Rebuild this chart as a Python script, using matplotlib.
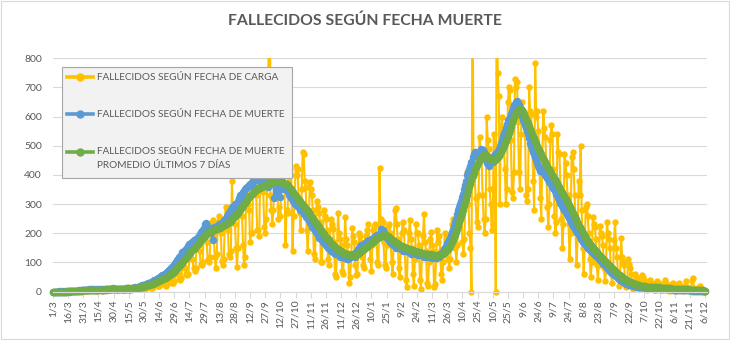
import numpy as np
import matplotlib
matplotlib.use("Agg")
import matplotlib.pyplot as plt
from matplotlib.lines import Line2D
from matplotlib.patches import Rectangle

# ---------------- DATA (daily, from 1/3/2020 to 6/12/2021) ----------------
tick_labels = ["1/3", "16/3", "31/3", "15/4", "30/4", "15/5", "30/5", "14/6", "29/6", "14/7",
               "29/7", "13/8", "28/8", "12/9", "27/9", "12/10", "27/10", "11/11", "26/11",
               "11/12", "26/12", "10/1", "25/1", "9/2", "24/2", "11/3", "26/3", "10/4", "25/4",
               "10/5", "25/5", "9/6", "24/6", "9/7", "24/7", "8/8", "23/8", "7/9", "22/9",
               "7/10", "22/10", "6/11", "21/11", "6/12"]

fallecidos_carga = [
    0,0,0,0,0,0,1, 0,0,0,1,0,0,0, 0,0,1,0,1,0,1, 1,2,1,3,5,2,1, 2,5,4,6,3,6,3,
    4,3,8,9,7,5,5, 4,3,7,8,5,9,3, 5,4,8,7,9,7,6, 5,6,8,10,7,9,6, 4,6,10,7,9,8,5,
    6,5,9,11,14,8,6, 7,8,11,16,12,10,9, 8,9,12,15,18,14,10, 10,12,18,22,25,20,13,
    12,15,24,30,33,28,20, 18,22,35,38,42,36,25, 20,25,45,50,56,48,30, 30,35,60,70,78,65,42,
    40,45,85,95,110,80,60, 55,60,120,130,145,110,80, 70,80,165,170,160,140,95,
    90,100,190,200,210,170,110, 100,120,215,240,245,195,120, 80,130,240,260,230,200,105,
    90,110,250,290,280,210,130, 120,140,380,260,300,230,150, 85,150,300,310,320,260,160,
    90,120,330,350,300,280,170, 200,200,370,390,400,330,210, 210,190,400,420,380,340,220,
    200,250,400,410,3351,330,280, 230,280,420,440,410,360,250, 290,260,430,420,400,370,160,
    280,270,380,420,400,350,140, 260,300,430,400,420,320,270, 210,350,480,470,380,360,210,
    140,230,375,350,330,280,130, 110,215,310,290,270,240,100, 100,200,280,260,250,210,110,
    90,180,250,230,215,170,60, 50,150,270,200,180,160,70, 60,140,255,180,160,130,30,
    50,120,218,190,170,90,55, 60,140,200,190,170,120,90, 80,150,190,210,230,180,110,
    70,160,210,220,230,180,100, 90,425,250,230,240,170,90, 80,160,220,230,200,170,100,
    60,170,280,285,230,180,80, 50,140,200,240,210,150,40, 15,150,200,245,180,150,60,
    20,110,230,200,200,160,40, 10,130,190,265,170,140,30, 20,100,180,205,160,140,15,
    25,110,210,170,190,140,60, 40,100,150,200,180,170,110, 80,110,200,230,250,220,150,
    100,160,280,290,300,290,170, 130,180,350,360,410,300,200, 150,0,1100,420,430,320,240,
    220,330,530,480,450,330,250, 200,250,600,520,490,350,300, 210,230,540,460,0,1200,750,
    670,300,550,600,560,500,420, 300,350,650,700,690,520,340, 320,410,730,700,720,580,410,
    350,540,650,620,600,540,330, 310,350,700,620,610,500,380, 280,784,600,620,550,480,320,
    250,430,620,560,530,440,290, 220,300,520,570,540,420,260, 200,240,540,480,470,360,250,
    150,230,470,440,400,330,230, 110,200,460,480,420,330,200, 90,190,380,330,500,280,150,
    60,150,290,300,260,200,110, 50,100,255,230,220,180,90, 40,90,225,200,190,160,80,
    35,70,240,200,180,150,60, 30,60,175,240,150,120,50, 20,45,185,120,100,90,40,
    15,30,110,95,80,60,25, 10,25,60,50,45,35,20, 8,15,55,50,40,30,15,
    5,12,35,40,30,25,10, 5,10,30,35,28,22,8, 4,8,25,40,30,20,8,
    3,8,20,25,30,18,6, 3,6,22,30,20,15,5, 2,5,20,35,15,12,4,
    2,4,38,45,12,10,3, 2,4,15,20,10,8,2, 0,0]

fallecidos_muerte = [
    0,0,0,0,0,0,1, 0,0,1,0,0,1,0, 1,1,0,2,1,1,2, 2,3,2,3,3,4,3, 4,5,4,6,5,6,6,
    6,7,5,8,6,7,6, 6,7,5,6,7,8,5, 7,6,8,7,6,8,7, 8,7,9,12,8,7,8, 9,8,10,9,8,10,9,
    10,9,11,10,12,9,10, 12,11,13,12,14,12,13, 15,16,18,20,22,21,24, 24,27,26,29,30,29,32,
    34,36,38,41,40,44,45, 46,50,52,56,55,58,60, 63,66,70,74,76,80,84, 88,92,98,100,108,112,118,
    120,125,135,130,140,138,145, 150,155,162,158,165,170,175, 172,180,178,188,192,198,205,
    208,212,218,232,236,225,215, 210,218,205,212,178,220,215, 220,225,222,230,228,235,232,
    240,245,250,248,260,265,270, 275,280,290,270,295,300,285, 305,310,320,330,325,335,340,
    345,350,355,360,358,365,370, 370,375,380,360,385,390,385, 390,380,395,385,390,400,395,
    385,380,390,360,380,395,385, 370,390,320,385,395,330,375, 360,325,370,380,350,365,355,
    350,340,330,345,320,330,310, 315,300,310,295,300,290,280, 285,275,280,265,270,255,260,
    250,245,235,240,220,225,215, 210,205,200,195,185,190,180, 175,170,165,175,160,155,150,
    150,145,140,148,135,138,130, 135,130,128,132,120,125,118, 118,122,115,125,110,112,120,
    118,120,125,128,130,120,135, 140,145,150,155,160,150,158, 160,165,168,172,165,175,170,
    175,180,185,182,190,188,195, 195,200,215,205,210,200,195, 190,185,180,175,170,168,165,
    160,165,158,150,162,155,150, 150,145,148,140,152,145,140, 138,142,135,140,130,138,135,
    132,135,128,130,125,132,128, 125,128,122,118,130,125,122, 120,125,118,128,115,122,120,
    118,115,122,125,120,128,130, 132,138,145,150,155,165,170, 175,185,195,205,215,225,240,
    250,265,280,290,300,310,325, 335,350,365,380,400,410,420, 430,445,460,470,480,480,470,
    475,480,460,490,470,485,480, 465,455,440,450,430,445,460, 450,445,455,470,465,480,475,
    490,500,510,520,535,545,550, 560,575,590,580,600,610,620, 630,640,635,650,655,645,640,
    630,615,600,590,580,570,560, 550,540,525,510,500,490,480, 470,460,450,440,430,425,415,
    425,415,410,405,400,395,390, 385,375,378,370,360,355,350, 345,335,330,320,315,305,300,
    295,288,280,273,265,258,252, 246,240,233,226,220,214,208, 205,199,193,187,181,175,170,
    168,163,158,154,150,146,143, 140,136,132,128,124,121,118, 115,111,107,103,100,96,93,
    90,86,82,79,75,72,68, 65,62,58,55,52,49,46, 44,41,39,36,34,32,30,
    27,26,25,24,23,22,21, 20,19,19,18,17,16,16, 15,15,14,14,14,13,13,
    13,12,12,12,11,11,11, 10,10,10,10,9,9,9, 9,8,8,8,8,8,7,
    7,7,7,7,6,6,6, 6,6,6,5,5,5,5, 5,5,4,4,4,4,4,
    4,4,3,3,3,3,3, 3,3,2,2,2,2,2, 1,1]

promedio_7_dias = [
    0,0,0,0,0,0,0, 0,0,0,0,0,0,0, 0,1,1,1,1,1,1, 1,2,2,2,2,3,3, 3,3,4,4,4,5,5,
    5,5,6,6,6,6,6, 6,6,6,6,6,6,6, 6,6,6,7,7,7,7, 7,7,7,7,8,8,8, 8,8,8,8,9,9,9,
    9,9,9,10,10,10,10, 10,10,11,11,11,12,12, 12,13,14,15,16,17,18, 18,20,21,22,23,24,25,
    26,27,29,30,32,33,35, 36,38,40,42,44,46,47, 48,51,53,56,58,61,63, 65,69,72,76,80,84,87,
    90,94,99,103,107,111,116, 120,124,129,133,138,142,146, 150,155,159,164,168,172,176,
    180,184,188,192,196,199,202, 205,207,209,210,211,212,213, 215,216,217,218,219,221,223,
    225,227,229,231,233,235,237, 240,243,247,251,255,258,262, 265,270,275,280,285,290,295,
    300,305,310,315,320,324,327, 330,334,337,341,344,347,350, 352,354,356,358,360,362,363,
    365,367,368,370,371,372,374, 375,376,377,377,378,378,378, 378,377,376,375,373,371,369,
    368,364,360,356,351,346,340, 335,331,327,322,318,313,309, 305,301,297,292,288,283,279,
    275,270,265,260,255,250,245, 240,235,230,225,220,215,210, 205,200,196,191,187,183,179,
    175,171,167,164,160,157,153, 150,147,145,142,140,138,135, 133,132,130,129,128,127,126,
    125,125,124,124,124,125,126, 128,130,133,136,139,141,143, 145,148,151,154,157,160,162,
    165,168,171,174,177,180,182, 185,188,190,192,193,194,194, 193,191,189,186,183,180,177,
    175,172,170,167,165,163,160, 158,156,155,153,152,150,149, 148,147,146,145,144,143,141,
    140,139,138,137,136,135,134, 132,131,130,129,128,128,127, 127,126,126,125,125,124,124,
    124,123,123,123,123,124,125, 128,130,133,136,139,143,147, 150,156,163,170,178,186,195,
    205,215,226,237,248,259,270, 280,293,306,319,332,345,358, 370,383,396,408,419,428,435,
    440,447,453,458,462,465,467, 468,467,465,462,459,456,454, 452,451,451,452,454,457,461,
    466,472,478,485,492,500,508, 516,525,535,545,555,566,577, 588,598,607,614,620,624,627,
    627,625,621,615,608,600,592, 585,577,568,559,550,541,533, 525,516,508,500,492,484,477,
    470,463,457,450,444,438,432, 425,419,413,407,401,395,390, 385,378,372,365,359,352,346,
    340,333,326,319,311,304,297, 290,283,276,268,261,254,247, 240,233,226,220,213,207,201,
    195,189,183,178,173,168,163, 158,154,150,146,142,138,134, 130,126,122,119,115,111,108,
    105,101,97,94,90,87,83, 80,77,73,70,67,64,61, 58,55,52,49,47,44,42,
    40,38,36,34,33,31,30, 28,27,26,25,24,23,21, 20,19,19,18,18,18,17,
    17,17,16,16,16,15,15, 15,15,14,14,14,13,13, 13,12,12,12,12,11,11,
    11,11,10,10,10,10,10, 10,9,9,9,9,8,8, 8,8,7,7,7,7,6,
    6,6,6,5,5,5,5, 5,5,4,4,4,4,4, 3,3]

series_names = ["FALLECIDOS SEGÚN FECHA DE CARGA",
                "FALLECIDOS SEGÚN FECHA DE MUERTE",
                "FALLECIDOS SEGÚN FECHA DE MUERTE\nPROMEDIO ÚLTIMOS 7 DÍAS"]
title = "FALLECIDOS SEGÚN FECHA MUERTE"

# ---------------- STYLE ----------------
YEL, BLU, GRN = "#FFC000", "#5B9BD5", "#70AD47"
TXT = "#595959"
GRID = "#D9D9D9"
FONT = ["Lato", "DejaVu Sans"]
plt.rcParams["font.family"] = FONT

W, H = 730, 341
fig = plt.figure(figsize=(W / 100, H / 100), dpi=100)
fig.patch.set_facecolor("white")


def fx(px):
    return px / W


def fy(py):
    return 1 - py / H


n = min(len(fallecidos_carga), len(fallecidos_muerte), len(promedio_7_dias))
x = np.arange(n)
ppd = (705 - 53) / 645.0
x_right = (707 - 53) / ppd

ax = fig.add_axes([fx(53), fy(291.5), fx(707) - fx(53), fy(58.3) - fy(291.5)])
ax.set_xlim(0, x_right)
ax.set_ylim(0, 800)
ax.set_yticks(range(0, 801, 100))
ax.yaxis.grid(True, color=GRID, lw=0.8)
ax.set_axisbelow(True)
for s in ["left", "right", "top"]:
    ax.spines[s].set_visible(False)
ax.spines["bottom"].set_color(GRID)
ax.spines["bottom"].set_linewidth(0.8)
ax.tick_params(axis="y", length=0, pad=8, labelsize=7.5, labelcolor=TXT)
ax.set_xticks(np.arange(0, 15 * len(tick_labels), 15))
ax.set_xticklabels(tick_labels, rotation=90)
ax.tick_params(axis="x", length=4, width=0.8, color=GRID, pad=2, labelsize=7.5, labelcolor=TXT)

styles = [(YEL, 1.5, 3.6), (BLU, 1.8, 4.4), (GRN, 2.9, 4.4)]
handles = []
for vals, (c, lw, ms) in zip([fallecidos_carga, fallecidos_muerte, promedio_7_dias], styles):
    ln, = ax.plot(x, vals[:n], color=c, lw=lw, marker="o", ms=ms, mec=c, mfc=c)
    handles.append(ln)
clip = Rectangle((-0.02, -0.03), 1.04, 1.03, transform=ax.transAxes)
for ln in handles:
    ln.set_clip_path(clip)

# outer chart border
fig.add_artist(Rectangle((fx(0.5), fy(338.5)), fx(728.5) - fx(0.5), fy(0.5) - fy(338.5),
                         transform=fig.transFigure, fill=False, edgecolor=GRID, lw=0.8))

# title
t_title = fig.text(fx(365), fy(21), title, ha="center", va="center", fontsize=13,
                   fontweight="bold", color=TXT)

# manual legend
fig.add_artist(Rectangle((fx(62), fy(178)), fx(292) - fx(62), fy(67) - fy(178),
                         transform=fig.transFigure, facecolor="#F2F2F2", edgecolor="#A6A6A6",
                         lw=0.8, zorder=10))
leg_y = [77.3, 114.3, 151.7]
texts = []
for (c, lw, ms), py, name in zip(styles, leg_y, series_names):
    fig.add_artist(Line2D([fx(67), fx(93)], [fy(py), fy(py)], transform=fig.transFigure,
                          color=c, lw=2.6, zorder=11))
    fig.add_artist(Line2D([fx(80)], [fy(py)], transform=fig.transFigure, color=c,
                          marker="o", ms=5.0, zorder=12))
    for i, ln_txt in enumerate(name.split("\n")):
        t = fig.text(fx(97), fy(py + i * 14.3), ln_txt, ha="left", va="center",
                     fontsize=8, color=TXT, zorder=13)
        texts.append(t)

fig.canvas.draw()
r = fig.canvas.get_renderer()
w0 = texts[0].get_window_extent(r).width
fs = 8 * 182.6 / w0
for t in texts:
    t.set_fontsize(fs)
wt = t_title.get_window_extent(r).width
t_title.set_fontsize(13 * 275.0 / wt)

fig.savefig("out.png", dpi=100)
